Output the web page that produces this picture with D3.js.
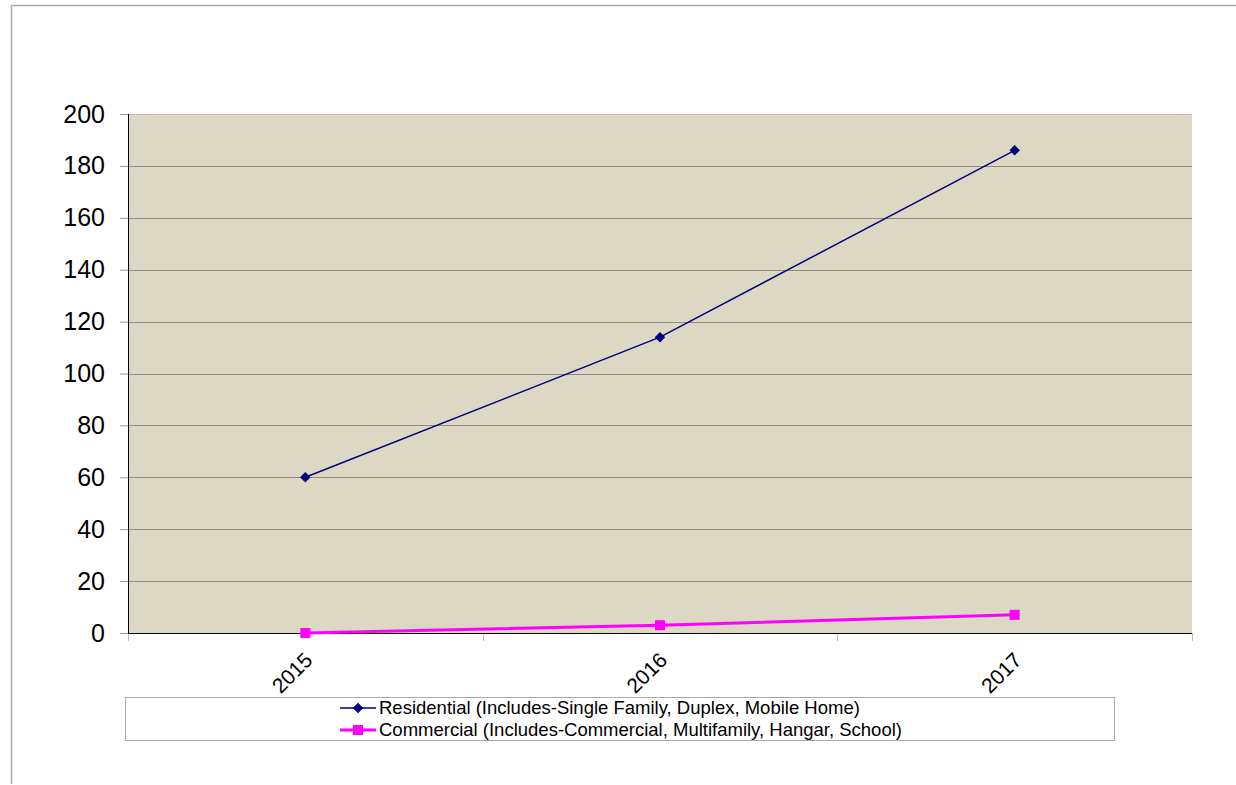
<!DOCTYPE html>
<html>
<head>
<meta charset="utf-8">
<script src="https://cdn.jsdelivr.net/npm/d3@7"></script>
<style>
  body { margin: 0; background: #fff; }
  text { font-family: "Liberation Sans", Arial, sans-serif; }
</style>
</head>
<body>
<div id="chart"></div>
<script>
var years = ["2015", "2016", "2017"];
var residential = [60, 114, 186];
var commercial = [0, 3, 7];
var yTicks = [0, 20, 40, 60, 80, 100, 120, 140, 160, 180, 200];
var seriesNames = [
  "Residential (Includes-Single Family, Duplex, Mobile Home)",
  "Commercial (Includes-Commercial, Multifamily, Hangar, School)"
];

var svgWidth = 1236;
var svgHeight = 785;
var margin = { top: 114, right: 44, bottom: 152, left: 128 };
var width = svgWidth - margin.left - margin.right;
var height = svgHeight - margin.top - margin.bottom;

var svg = d3.select("#chart")
  .append("svg")
  .attr("width", svgWidth)
  .attr("height", svgHeight);

// outer chart border (only top and left visible)
svg.append("path")
  .attr("d", "M11.5,784 V5.5 H1236")
  .attr("fill", "none")
  .attr("stroke", "#aaaaaa")
  .attr("stroke-width", 1.5);

var chartGroup = svg.append("g")
  .attr("transform", `translate(${margin.left}, ${margin.top})`);

var xScale = d3.scaleBand().domain(years).range([0, width]);
var yScale = d3.scaleLinear().domain([0, 200]).range([height, 0]);

// plot background
chartGroup.append("rect")
  .attr("width", width)
  .attr("height", height)
  .attr("fill", "#ddd8c3");

// gridlines
chartGroup.selectAll(".grid")
  .data(yTicks.filter(d => d > 0))
  .enter()
  .append("line")
  .attr("x1", 0)
  .attr("x2", width)
  .attr("y1", d => Math.round(yScale(d)) + 0.5)
  .attr("y2", d => Math.round(yScale(d)) + 0.5)
  .attr("stroke", d => d === 200 ? "#bdbdbd" : "#8f8c7e")
  .attr("stroke-width", 1);

// y axis
var leftAxis = d3.axisLeft(yScale).tickValues(yTicks).tickSize(8).tickPadding(15);
var yAxisG = chartGroup.append("g").call(leftAxis);
yAxisG.select(".domain").remove();
yAxisG.selectAll(".tick line").attr("stroke", "#999999");
yAxisG.selectAll(".tick text")
  .attr("font-size", "25px")
  .attr("fill", "#000")
  .style("font-family", "Liberation Sans, Arial, sans-serif");
chartGroup.append("line")
  .attr("x1", 0.5).attr("x2", 0.5)
  .attr("y1", 0).attr("y2", height)
  .attr("stroke", "#000");

// x axis: ticks at band boundaries, labels at band centres
var bounds = years.map(d => xScale(d)).concat([width]);
chartGroup.selectAll(".xtick")
  .data(bounds)
  .enter()
  .append("line")
  .attr("x1", d => Math.round(d) + 0.5)
  .attr("x2", d => Math.round(d) + 0.5)
  .attr("y1", height)
  .attr("y2", height + 8)
  .attr("stroke", "#bbbbbb");
chartGroup.append("line")
  .attr("x1", 0).attr("x2", width)
  .attr("y1", height + 0.5).attr("y2", height + 0.5)
  .attr("stroke", "#000");
chartGroup.selectAll(".xlabel")
  .data(years)
  .enter()
  .append("text")
  .attr("transform", d => `translate(${xScale(d) + xScale.bandwidth() / 2 - 2}, ${height + 18}) rotate(-45)`)
  .attr("text-anchor", "end")
  .attr("dy", "0.7em")
  .attr("font-size", "21px")
  .text(d => d);

// lines
var line = d3.line()
  .x((d, i) => xScale(years[i]) + xScale.bandwidth() / 2)
  .y(d => yScale(d));

chartGroup.append("path")
  .datum(residential)
  .attr("d", line)
  .attr("fill", "none")
  .attr("stroke", "#000080")
  .attr("stroke-width", 1.5);
chartGroup.append("path")
  .datum(commercial)
  .attr("d", line)
  .attr("fill", "none")
  .attr("stroke", "#ff00ff")
  .attr("stroke-width", 3);

var diamond = d3.symbol().type(d3.symbolDiamond2).size(70);
chartGroup.selectAll(".resPt")
  .data(residential)
  .enter()
  .append("path")
  .attr("d", diamond)
  .attr("transform", (d, i) => `translate(${xScale(years[i]) + xScale.bandwidth() / 2}, ${yScale(d)})`)
  .attr("fill", "#000080");
chartGroup.selectAll(".comPt")
  .data(commercial)
  .enter()
  .append("rect")
  .attr("x", (d, i) => xScale(years[i]) + xScale.bandwidth() / 2 - 5)
  .attr("y", d => yScale(d) - 5)
  .attr("width", 10)
  .attr("height", 10)
  .attr("fill", "#ff00ff");

// legend
var legend = svg.append("g");
legend.append("rect")
  .attr("x", 125.5).attr("y", 697.5)
  .attr("width", 989).attr("height", 43)
  .attr("fill", "#fff")
  .attr("stroke", "#aaaaaa")
  .attr("stroke-width", 1);

var legendItems = legend.selectAll(".item")
  .data(seriesNames)
  .enter()
  .append("g")
  .attr("transform", (d, i) => `translate(340, ${708 + i * 22})`);
legendItems.append("line")
  .attr("x1", 0).attr("x2", 36)
  .attr("stroke", (d, i) => i === 0 ? "#000080" : "#ff00ff")
  .attr("stroke-width", (d, i) => i === 0 ? 1.5 : 3);
legendItems.each(function(d, i) {
  var g = d3.select(this);
  if (i === 0) {
    g.append("path").attr("d", diamond).attr("transform", "translate(18,0)").attr("fill", "#000080");
  } else {
    g.append("rect").attr("x", 13).attr("y", -5).attr("width", 10).attr("height", 10).attr("fill", "#ff00ff");
  }
});
legendItems.append("text")
  .attr("x", 39)
  .attr("dy", "0.35em")
  .attr("font-size", "18.5px")
  .text(d => d);
</script>
</body>
</html>
